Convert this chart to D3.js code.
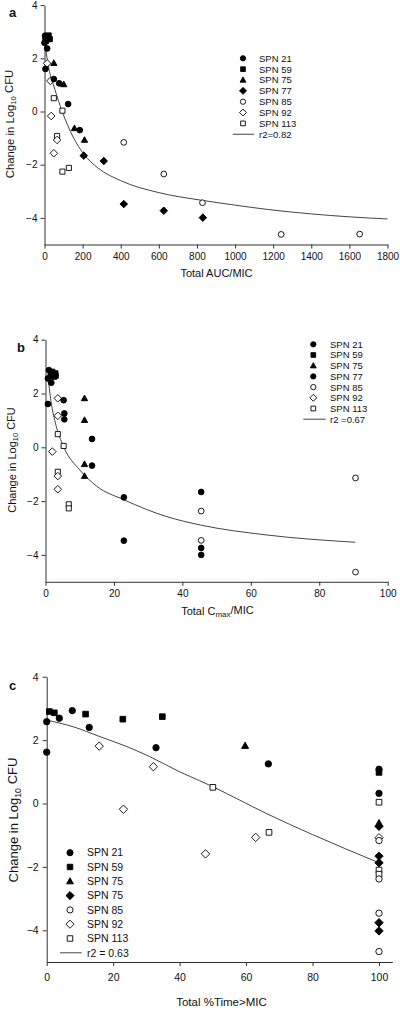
<!DOCTYPE html>
<html><head><meta charset="utf-8">
<script src="https://cdn.jsdelivr.net/npm/d3@7"></script>
<style>
html,body{margin:0;padding:0;background:#fff;}
text{font-family:"Liberation Sans",Arial,sans-serif;fill:#111;}
</style></head>
<body><svg id="chart" width="400" height="1010"></svg>
<script>
// ---------- DATA ----------
const yTicks = [-4, -2, 0, 2, 4];
const xTicksA = [0, 200, 400, 600, 800, 1000, 1200, 1400, 1600, 1800];
const xTicksB = [0, 20, 40, 60, 80, 100];
const xTicksC = [0, 20, 40, 60, 80, 100];

const legendA = ["SPN 21", "SPN 59", "SPN 75", "SPN 77", "SPN 85", "SPN 92", "SPN 113"];
const legendB = ["SPN 21", "SPN 59", "SPN 75", "SPN 77", "SPN 85", "SPN 92", "SPN 113"];
const legendC = ["SPN 21", "SPN 59", "SPN 75", "SPN 75", "SPN 85", "SPN 92", "SPN 113"];
const fitLabelA = "r2=0.82";
const fitLabelB = "r2 =0.67";
const fitLabelC = "r2 = 0.63";

// Panel a: Total AUC/MIC vs change in log10 CFU
const a_spn21 = [[3,2.85],[0,2.58],[14,2.37],[5,1.60],[49,1.22],[77,1.06],[124,0.28],[185,-0.70]];
const a_spn59 = [[10,2.8],[18,2.72],[28,2.72],[8,2.65],[22,2.86],[4,2.75]];
const a_spn75 = [[49,1.82],[101,1.02],[157,-0.63],[210,-1.07]];
const a_spn77 = [[206,-1.66],[311,-1.86],[416,-3.48],[626,-3.73],[831,-3.99]];
const a_spn85 = [[416,-1.16],[626,-2.35],[829,-3.43],[1242,-4.62],[1654,-4.61]];
const a_spn92 = [[14,1.81],[31,1.15],[35,-0.17],[66,-1.07],[49,-1.57]];
const a_spn113 = [[49,0.50],[94,0.03],[66,-0.92],[94,-2.26],[128,-2.12]];
const a_fit = [[0,2.75],[5,2.45],[23,1.6],[45,1.05],[84,0.18],[136,-0.75],[206,-1.6],[280,-2.12],[400,-2.6],[600,-3.05],[818,-3.33],[1000,-3.52],[1168,-3.68],[1400,-3.85],[1600,-3.96],[1800,-4.04]];

// Panel b: Total Cmax/MIC
const b_spn21 = [[1.0,2.87],[0.7,2.56],[1.7,2.40],[0.7,1.61],[5.3,1.75],[5.5,1.26],[5.5,1.04],[13.6,0.31],[13.6,-0.68]];
const b_spn59 = [[2.0,2.81],[2.9,2.75],[1.5,2.68],[2.5,2.62],[3.0,2.66]];
const b_spn75 = [[11.4,1.82],[11.4,1.01],[11.4,-0.63],[11.4,-1.07]];
const b_spn77 = [[22.9,-1.86],[22.9,-3.47],[45.5,-1.66],[45.5,-3.74],[45.5,-4.0]];
const b_spn85 = [[45.5,-2.37],[45.5,-3.46],[90.6,-1.14],[90.6,-4.64]];
const b_spn92 = [[3.6,1.82],[3.6,1.17],[2.0,-0.16],[3.6,-1.07],[3.6,-1.56]];
const b_spn113 = [[3.6,0.49],[5.3,0.05],[3.6,-0.91],[6.8,-2.12],[6.8,-2.27]];
const b_fit = [[0.5,2.6],[1.0,2.3],[1.5,1.8],[2.9,0.9],[5.3,0.02],[10,-0.84],[15,-1.45],[22.9,-1.95],[35.5,-2.58],[45.3,-2.89],[64.7,-3.26],[90.5,-3.53]];

// Panel c: Total %Time>MIC
const c_spn21 = [[0,2.58],[0,1.62],[3.8,2.69],[7.7,2.93],[12.8,2.40],[32.9,1.76],[66.7,1.25],[100,1.08],[100,0.32]];
const c_spn59 = [[0.8,2.90],[2.3,2.86],[11.7,2.82],[22.9,2.66],[34.8,2.74],[100,0.98]];
const c_spn75tri = [[59.7,1.82],[100,-0.62]];
const c_spn75dia = [[100,-0.72],[100,-1.66],[100,-1.87],[100,-3.76],[100,-4.02]];
const c_spn85 = [[100,-1.17],[100,-2.38],[100,-3.46],[100,-4.67]];
const c_spn92 = [[15.8,1.81],[32.1,1.16],[23.1,-0.18],[47.8,-1.59],[62.9,-1.07],[100,-1.08]];
const c_spn113 = [[50,0.51],[66.9,-0.91],[100,0.04],[100,-2.10],[100,-2.23]];
const c_fit = [[0,2.63],[8,2.42],[16,2.11],[24,1.8],[31,1.48],[40,1.0],[46,0.72],[50,0.53],[58,0.11],[66,-0.31],[80,-0.98],[100,-1.87]];

// ---------- DRAWING ----------
const svg = d3.select("#chart");
svg.append("rect").attr("width",400).attr("height",1010).attr("fill","#fff");

const diamondType = { draw(ctx, size){ const r = Math.sqrt(size/2)*1.05; ctx.moveTo(0,-r); ctx.lineTo(r,0); ctx.lineTo(0,r); ctx.lineTo(-r,0); ctx.closePath(); } };
const circleType = { draw(ctx, size){ const r = Math.sqrt(size/Math.PI); ctx.moveTo(r,0); ctx.arc(0,0,r,0,2*Math.PI); } };
const squareType = { draw(ctx, size){ const s = Math.sqrt(size)/2; ctx.rect(-s,-s,2*s,2*s); } };
const triType = { draw(ctx, size){ const s = Math.sqrt(size)*0.62; ctx.moveTo(0,-s*1.05); ctx.lineTo(s,s*0.75); ctx.lineTo(-s,s*0.75); ctx.closePath(); } };

const S = {
  fcircle:{type:circleType, fill:"#000"},
  fsquare:{type:squareType, fill:"#000"},
  ftri:{type:triType, fill:"#000"},
  fdiamond:{type:diamondType, fill:"#000"},
  ocircle:{type:circleType, fill:"#fff"},
  odiamond:{type:diamondType, fill:"#fff"},
  osquare:{type:squareType, fill:"#fff"}
};

function drawPanel(p){
  const g = svg.append("g");
  const x = d3.scaleLinear().domain(p.xDomain).range(p.xRange);
  const y = d3.scaleLinear().domain([-5,4]).range(p.yRange);
  const axisX = p.xRange[0], axisY = p.yRange[0];

  // axes
  const gx = g.append("g").attr("transform",`translate(0,${axisY})`)
    .call(d3.axisBottom(x).tickValues(p.xTicks).tickFormat(d3.format("d")).tickSize(4).tickSizeOuter(0).tickPadding(p.xPad));
  gx.select(".domain").attr("stroke","#333");
  gx.selectAll(".tick line").attr("stroke","#333");
  gx.selectAll("text").style("font-size",p.tickFont+"px").attr("fill","#222").attr("font-family","Liberation Sans, Arial, sans-serif");

  const gy = g.append("g").attr("transform",`translate(${axisX},0)`)
    .call(d3.axisLeft(y).tickValues(yTicks).tickFormat(d3.format("d")).tickSize(4).tickSizeOuter(0).tickPadding(p.yPad));
  gy.select(".domain").attr("stroke","#333");
  gy.selectAll(".tick line").attr("stroke","#333");
  gy.selectAll("text").style("font-size",p.tickFont+"px").attr("fill","#222").attr("font-family","Liberation Sans, Arial, sans-serif");

  // fit curve
  g.append("path").datum(p.fit)
    .attr("d", d3.line().x(d=>x(d[0])).y(d=>y(d[1])).curve(d3.curveMonotoneX))
    .attr("fill","none").attr("stroke","#444").attr("stroke-width",1);

  // points
  p.series.forEach(s=>{
    const st = S[s.sym];
    g.append("g").selectAll("path").data(s.data).join("path")
      .attr("transform",d=>`translate(${x(d[0])},${y(d[1])})`)
      .attr("d", d3.symbol().type(st.type).size(p.symSize))
      .attr("fill", st.fill).attr("stroke","#000").attr("stroke-width",0.9);
  });

  // legend
  const L = p.legend;
  L.names.forEach((name,i)=>{
    const yy = L.y0 + i*L.dy;
    const st = S[L.syms[i]];
    g.append("path").attr("transform",`translate(${L.symX},${yy})`)
      .attr("d", d3.symbol().type(st.type).size(L.symSize))
      .attr("fill", st.fill).attr("stroke","#000").attr("stroke-width",0.9);
    g.append("text").attr("x",L.textX).attr("y",yy).attr("dy","0.36em")
      .style("font-size",L.font+"px").text(name);
  });
  const ly = L.y0 + L.names.length*L.dy;
  g.append("line").attr("x1",L.lineX1).attr("x2",L.lineX2).attr("y1",ly).attr("y2",ly)
    .attr("stroke","#444").attr("stroke-width",1);
  g.append("text").attr("x",L.textX).attr("y",ly).attr("dy","0.36em")
    .style("font-size",L.font+"px").text(L.fitLabel);

  // panel letter
  g.append("text").attr("x",p.letterX).attr("y",p.letterY).attr("dy","0.36em")
    .style("font-size","13px").style("font-weight","bold").text(p.letter);

  // y title
  const yt = g.append("text").attr("transform",`translate(${p.yTitleX},${p.yTitleY}) rotate(-90)`)
    .attr("text-anchor","middle").style("font-size",p.yTitleFont+"px");
  yt.append("tspan").text("Change in Log");
  yt.append("tspan").attr("dy","0.3em").style("font-size",(p.yTitleFont*0.68)+"px").text("10");
  yt.append("tspan").attr("dy","-0.3em").text(" CFU");

  // x title
  const xt = g.append("text").attr("x",p.xTitleX).attr("y",p.xTitleY)
    .attr("text-anchor","middle").style("font-size",p.titleFont+"px");
  p.xTitle(xt);
}

drawPanel({
  xDomain:[0,1800], xRange:[44.5,387.5], yRange:[244.5,5.1], xTicks:xTicksA,
  tickFont:10, xPad:4, yPad:3, symSize:26, titleFont:11, yTitleFont:11.3,
  fit:a_fit,
  series:[
    {data:a_spn113,sym:"osquare"},{data:a_spn92,sym:"odiamond"},{data:a_spn85,sym:"ocircle"},
    {data:a_spn77,sym:"fdiamond"},{data:a_spn75,sym:"ftri"},{data:a_spn59,sym:"fsquare"},{data:a_spn21,sym:"fcircle"}
  ],
  legend:{names:legendA, syms:["fcircle","fsquare","ftri","fdiamond","ocircle","odiamond","osquare"],
    y0:58.3, dy:10.85, symX:243, textX:259, symSize:22, font:9.5, lineX1:232.7, lineX2:254, fitLabel:fitLabelA},
  letter:"a", letterX:9, letterY:12,
  yTitleX:14, yTitleY:124, xTitleX:216.5, xTitleY:277,
  xTitle:t=>t.text("Total AUC/MIC")
});

drawPanel({
  xDomain:[0,100], xRange:[45.5,387.7], yRange:[581.8,339.7], xTicks:xTicksB,
  tickFont:10, xPad:4, yPad:3, symSize:26, titleFont:11, yTitleFont:11,
  fit:b_fit,
  series:[
    {data:b_spn113,sym:"osquare"},{data:b_spn92,sym:"odiamond"},{data:b_spn85,sym:"ocircle"},
    {data:b_spn77,sym:"fcircle"},{data:b_spn75,sym:"ftri"},{data:b_spn59,sym:"fsquare"},{data:b_spn21,sym:"fcircle"}
  ],
  legend:{names:legendB, syms:["fcircle","fsquare","ftri","fcircle","ocircle","odiamond","osquare"],
    y0:344.3, dy:10.7, symX:313.3, textX:330, symSize:22, font:9.5, lineX1:303.3, lineX2:325.7, fitLabel:fitLabelB},
  letter:"b", letterX:17, letterY:347,
  yTitleX:16, yTitleY:460, xTitleX:217.5, xTitleY:615,
  xTitle:t=>{ t.append("tspan").text("Total C"); t.append("tspan").attr("dy","0.3em").style("font-size","8px").text("max"); t.append("tspan").attr("dy","-0.3em").text("/MIC"); }
});

drawPanel({
  xDomain:[0,104], xRange:[46.7,392.3], yRange:[962,676.7], xTicks:xTicksC,
  tickFont:10.5, xPad:8, yPad:4, symSize:32, titleFont:11.5, yTitleFont:13,
  fit:c_fit,
  series:[
    {data:c_spn113,sym:"osquare"},{data:c_spn92,sym:"odiamond"},{data:c_spn85,sym:"ocircle"},
    {data:c_spn75dia,sym:"fdiamond"},{data:c_spn75tri,sym:"ftri"},{data:c_spn59,sym:"fsquare"},{data:c_spn21,sym:"fcircle"}
  ],
  legend:{names:legendC, syms:["fcircle","fsquare","ftri","fdiamond","ocircle","odiamond","osquare"],
    y0:852.7, dy:14.3, symX:70, textX:87, symSize:30, font:10.5, lineX1:60, lineX2:81.7, fitLabel:fitLabelC},
  letter:"c", letterX:9, letterY:685,
  yTitleX:18, yTitleY:820, xTitleX:221.5, xTitleY:1006,
  xTitle:t=>t.text("Total %Time>MIC")
});
</script></body></html>
